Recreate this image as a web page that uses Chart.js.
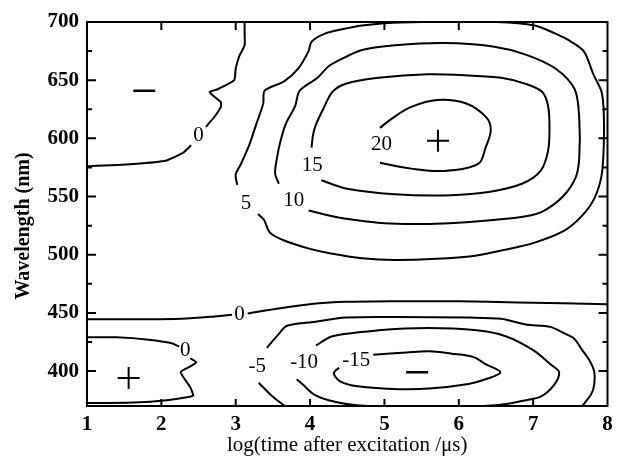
<!DOCTYPE html>
<html>
<head>
<meta charset="utf-8">
<script src="https://cdn.jsdelivr.net/npm/chart.js@4.4.1/dist/chart.umd.min.js"></script>
<style>
    html, body { margin: 0; padding: 0; background: #fff; }
    #wrap { width: 621px; height: 460px; position: relative; }
</style>
</head>
<body>
<div id="wrap"><canvas id="contourChart"></canvas></div>
<script>
// axes
var xRange = [1, 8];
var yRange = [370, 700];
var xTitle = 'log(time after excitation /\u03bcs)';
var yTitle = 'Wavelength (nm)';

// contour lines as [log t, wavelength]; null = gap where the level label sits
var c0Upper = [[1, 576], [1.63, 578], [2.07, 581], [2.3, 588], [2.4, 594], null,
    [2.6, 610], [2.72, 619], [2.8, 627], [2.8, 631], [2.69, 637], [2.65, 640], [2.75, 642],
    [2.98, 650], [3.0, 660], [3.05, 671], [3.12, 680], [3.12, 690], [3.12, 700]];
var c5 = [[3.02, 560], [3.0, 569], [3.07, 578], [3.18, 594], [3.27, 611], [3.37, 630], [3.39, 641],
    [3.65, 649], [3.84, 660], [3.98, 675], [4.02, 683], [4.2, 690], [4.45, 694], [4.7, 697],
    [5.0, 699], [5.5, 700], [6.5, 700], [7.02, 697], [7.3, 690], [7.46, 685], [7.68, 675],
    [7.81, 655], [7.92, 640], [7.95, 622], [7.95, 594], [7.92, 568], [7.82, 548], [7.65, 533],
    [7.4, 520], [7.0, 510], [6.6, 504], [6.2, 499], [5.7, 496.5], [5.14, 495.5], [4.7, 497],
    [4.28, 501], [4.0, 505], [3.66, 512], [3.46, 519], [3.38, 530], [3.3, 535]];
var c10 = [[3.58, 561], [3.53, 570], [3.56, 585], [3.6, 597], [3.67, 612], [3.8, 628], [3.86, 641],
    [4.1, 652], [4.25, 662], [4.48, 670], [4.7, 676], [5.14, 680], [5.8, 682], [6.46, 679],
    [6.9, 672], [7.3, 660], [7.56, 642], [7.62, 617], [7.62, 583], [7.57, 566], [7.4, 550],
    [7.15, 538], [6.9, 533], [6.5, 530], [6.1, 528], [5.6, 526.5], [5.0, 527], [4.48, 531],
    [4.24, 534], [3.98, 538]];
var c15 = [[4.02, 592], [4.04, 603], [4.08, 612], [4.19, 627], [4.3, 640], [4.48, 647], [4.92, 652],
    [5.58, 655], [6.13, 654], [6.57, 652], [6.89, 647], [7.12, 640], [7.2, 628], [7.22, 609],
    [7.2, 589], [7.1, 572], [6.85, 561], [6.4, 554], [5.8, 551], [5.14, 552], [4.48, 557], [4.15, 564]];
var c20 = [[4.94, 609], [5.1, 617], [5.36, 627], [5.71, 633], [6.1, 630], [6.37, 618], [6.43, 607],
    [6.36, 592], [6.26, 578], [5.8, 572], [5.36, 574], [4.94, 579]];
var c0Middle = [[1, 444.5], [1.6, 444.5], [2.27, 445], [2.72, 447], [2.95, 448.5], null,
    [3.16, 449.5], [3.6, 454], [4.08, 458], [4.48, 459.5], [5.14, 460], [6.0, 460], [6.8, 459], [8, 457.5]];
var c0Lower = [[1, 429], [1.4, 429], [1.83, 427], [2.14, 424], [2.24, 421], null,
    [2.39, 411], [2.47, 407.5], [2.39, 404], [2.26, 399], [2.39, 386], [2.43, 379], [2.38, 378],
    [2.07, 375], [1.63, 373], [1.07, 372.5], [1, 372.5]];
var cMinus5 = [[3.42, 420], [3.58, 432], [3.69, 439], [4.02, 442], [4.48, 446], [5.14, 446.5],
    [6.13, 446], [6.57, 445], [6.9, 440], [7.23, 438], [7.4, 433], [7.55, 428], [7.66, 418],
    [7.75, 410], [7.82, 400], [7.82, 388], [7.78, 380], [7.66, 370], null,
    [3.31, 390], [3.48, 379], [3.66, 370]];
var cMinus10 = [[4.08, 422], [4.3, 430], [4.92, 435], [5.58, 437], [6.24, 435], [6.63, 430],
    [7.0, 418], [7.25, 405], [7.35, 399], [7.28, 388], [7.1, 378], [6.9, 375], [6.56, 371], [6.3, 370], null,
    [3.82, 393], [3.91, 388], [4.05, 380], [4.25, 375], [4.57, 371], [4.8, 370]];
var cMinus15 = [[4.85, 414], [5.3, 416], [5.6, 417], [5.9, 415], [6.2, 412], [6.36, 406], [6.56, 399],
    [6.36, 393], [6.13, 389], [5.6, 385], [5.2, 384.5], [4.64, 387], [4.41, 391], [4.32, 398], [4.39, 403]];

var contourLines = [c0Upper, c5, c10, c15, c20, c0Middle, c0Lower, cMinus5, cMinus10, cMinus15];
var contourTension = [0.15, 0.3, 0.3, 0.3, 0.35, 0.3, 0.15, 0.3, 0.3, 0.35];

// level labels
var labelText = ['0', '5', '10', '15', '20', '0', '0', '-5', '-10', '-15'];
var labelX = [2.5, 3.14, 3.78, 4.03, 4.96, 3.05, 2.32, 3.29, 3.92, 4.62];
var labelY = [602.5, 544, 547, 577, 595, 449, 418, 404, 407, 409];

// sign markers
var plusX = [5.72, 1.56];
var plusY = [598, 394];
var minusX = [1.77, 5.44];
var minusY = [641, 399];

var serif = '"Liberation Serif", "Times New Roman", serif';

function splitSegments(line) {
    var segs = [], cur = [];
    line.forEach(function(p) {
        if (p === null) {
            if (cur.length) segs.push(cur);
            cur = [];
        } else {
            cur.push({ x: p[0], y: p[1] });
        }
    });
    if (cur.length) segs.push(cur);
    return segs;
}

function buildDatasets() {
    var sets = [];
    contourLines.forEach(function(line, i) {
        splitSegments(line).forEach(function(seg) {
            sets.push({
                data: seg,
                borderColor: '#000',
                borderWidth: 2,
                pointRadius: 0,
                tension: contourTension[i],
                fill: false,
                clip: 1
            });
        });
    });
    sets.push({
        data: plusX.map(function(x, i) { return { x: x, y: plusY[i] }; }),
        showLine: false,
        pointStyle: 'cross',
        pointRadius: 11,
        pointBorderWidth: 2,
        pointBorderColor: '#000'
    });
    sets.push({
        data: minusX.map(function(x, i) { return { x: x, y: minusY[i] }; }),
        showLine: false,
        pointStyle: 'line',
        pointRadius: 11,
        pointBorderWidth: 2.5,
        pointBorderColor: '#000'
    });
    return sets;
}

// frame, inward ticks, level labels and axis titles
var contourDecor = {
    id: 'contourDecor',
    afterDatasetsDraw: function(chart) {
        var ctx = chart.ctx;
        var area = chart.chartArea;
        var xs = chart.scales.x;
        var ys = chart.scales.y;
        ctx.save();

        ctx.fillStyle = '#000';
        ctx.font = '21px ' + serif;
        ctx.textAlign = 'center';
        ctx.textBaseline = 'middle';
        labelText.forEach(function(t, i) {
            ctx.fillText(t, xs.getPixelForValue(labelX[i]), ys.getPixelForValue(labelY[i]));
        });

        ctx.strokeStyle = '#000';
        ctx.lineWidth = 2;
        ctx.strokeRect(area.left, area.top, area.right - area.left, area.bottom - area.top);

        ctx.beginPath();
        xs.ticks.forEach(function(t) {
            if (t.value <= xRange[0] || t.value >= xRange[1]) return;
            var px = xs.getPixelForValue(t.value);
            ctx.moveTo(px, area.bottom);
            ctx.lineTo(px, area.bottom - 7);
            ctx.moveTo(px, area.top);
            ctx.lineTo(px, area.top + 8);
        });
        ys.ticks.forEach(function(t) {
            if (t.value <= yRange[0] || t.value >= yRange[1] || t.value % 25 !== 0) return;
            var py = ys.getPixelForValue(t.value);
            var len = t.value % 50 === 0 ? 9 : 5;
            ctx.moveTo(area.left, py);
            ctx.lineTo(area.left + len, py);
            ctx.moveTo(area.right, py);
            ctx.lineTo(area.right - len, py);
        });
        ctx.stroke();

        ctx.font = '21px ' + serif;
        ctx.fillText(xTitle, (area.left + area.right) / 2, 445);

        ctx.translate(24, 226);
        ctx.rotate(-Math.PI / 2);
        ctx.font = 'bold 20px ' + serif;
        ctx.fillText(yTitle, 0, 0);
        ctx.restore();
    }
};

new Chart(document.getElementById('contourChart'), {
    type: 'line',
    data: { datasets: buildDatasets() },
    options: {
        responsive: true,
        maintainAspectRatio: false,
        animation: false,
        layout: { padding: { top: 22, right: 5, left: 0, bottom: 0 } },
        plugins: {
            legend: { display: false },
            tooltip: { enabled: false }
        },
        scales: {
            x: {
                type: 'linear',
                min: xRange[0],
                max: xRange[1],
                afterFit: function(scale) { scale.height = 54; },
                grid: { display: false, drawTicks: false },
                border: { display: false },
                ticks: {
                    stepSize: 1,
                    padding: 6,
                    color: '#000',
                    font: { family: serif, size: 21, weight: 'bold' }
                }
            },
            y: {
                type: 'linear',
                min: yRange[0],
                max: yRange[1],
                afterFit: function(scale) { scale.width = 87; },
                grid: { display: false, drawTicks: false },
                border: { display: false },
                ticks: {
                    stepSize: 25,
                    padding: 8,
                    autoSkip: false,
                    color: '#000',
                    font: { family: serif, size: 21, weight: 'bold' },
                    callback: function(value) {
                        return (value % 50 === 0 && value >= 400) ? value : '';
                    }
                }
            }
        }
    },
    plugins: [contourDecor]
});
</script>
</body>
</html>
